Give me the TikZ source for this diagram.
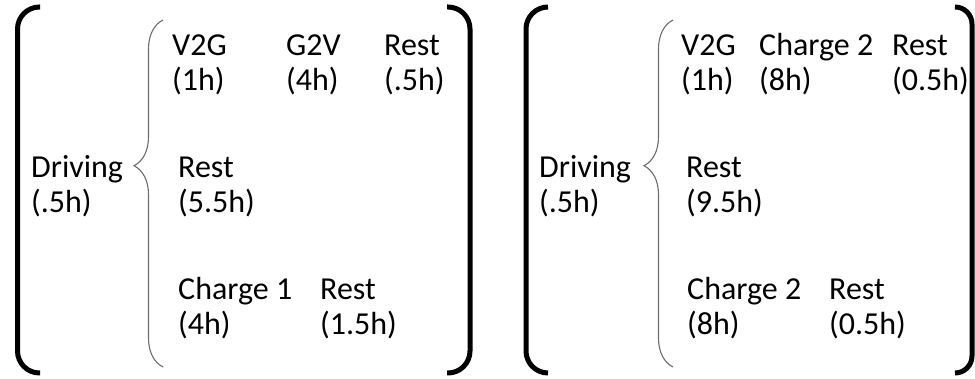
\documentclass[tikz,border=0pt]{standalone}
\usepackage{fontspec}
\setmainfont{Carlito}
\usetikzlibrary{decorations.pathreplacing}

\begin{document}
\begin{tikzpicture}[x=1pt,y=-1pt,every node/.style={item},
  item/.style={anchor=base west,inner sep=0pt,align=left,font=\fontsize{32}{35}\selectfont},
  paren/.style={line width=5pt,rounded corners=#1},
  curly/.style={draw=gray!85!black,line width=1.1pt,decorate,
    decoration={brace,amplitude=29pt,aspect=0.58}}]

  \useasboundingbox (0,0) rectangle (975,379);

  % first schedule
  \draw[paren=22pt] (40,7) -- (17.5,7) -- (17.5,373) -- (40,373);
  \draw[paren=22pt] (447,7) -- (470,7) -- (470,373) -- (447,373);

  \node (drvA) at (31,212.5) {Driving\\(.5h)};
  \draw[curly] (163,367) -- (163,20);

  \node (v2gA) at (172,91) {V2G\\(1h)};
  \node (g2vA) at (286,91) {G2V\\(4h)};
  \node (restA) at (384,91) {Rest\\(.5h)};
  \node (idleA) at (178,212.5) {Rest\\(5.5h)};
  \node (chgA) at (178,334.5) {Charge 1\\(4h)};
  \node (endA) at (320,334.5) {Rest\\(1.5h)};

  % second schedule
  \draw[paren=22pt] (548,7) -- (526,7) -- (526,373) -- (548,373);
  \draw[paren=17pt] (955,7) -- (972,7) -- (972,373) -- (955,373);

  \node (drvB) at (539,212.5) {Driving\\(.5h)};
  \draw[curly] (673,367) -- (673,20);

  \node (v2gB) at (681,91) {V2G\\(1h)};
  \node (chgB) at (759,91) {Charge 2\\(8h)};
  \node (restB) at (892,91) {Rest\\(0.5h)};
  \node (idleB) at (686,212.5) {Rest\\(9.5h)};
  \node (chgC) at (687,334.5) {Charge 2\\(8h)};
  \node (endB) at (829,334.5) {Rest\\(0.5h)};

\end{tikzpicture}
\end{document}
